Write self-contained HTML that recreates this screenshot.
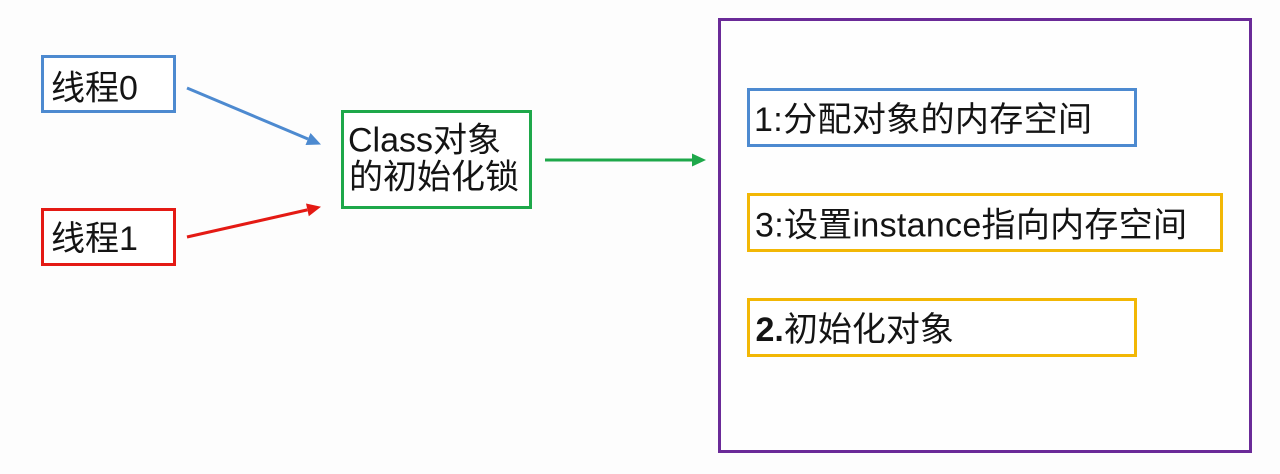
<!DOCTYPE html>
<html>
<head>
<meta charset="utf-8">
<style>
  html, body { margin: 0; padding: 0; background: #fdfdfd; }
  body { width: 1280px; height: 474px; overflow: hidden; }
  svg { display: block; }
  text { font-family: "Liberation Sans", "Noto Sans CJK SC", sans-serif; font-size: 34px; fill: #141414; }
</style>
</head>
<body>
<svg width="1280" height="474" viewBox="0 0 1280 474" xmlns="http://www.w3.org/2000/svg">
  <rect x="0" y="0" width="1280" height="474" fill="#fdfdfd"/>

  <!-- Thread boxes -->
  <rect x="42.5" y="56.5" width="132" height="55" fill="#ffffff" stroke="#4d8ad0" stroke-width="3"/>
  <text x="51" y="99.5">线程0</text>

  <rect x="42.5" y="209.5" width="132" height="55" fill="#ffffff" stroke="#e41a14" stroke-width="3"/>
  <text x="51" y="250">线程1</text>

  <!-- Green lock box -->
  <rect x="342.5" y="111.5" width="188" height="96" fill="#ffffff" stroke="#1ea84a" stroke-width="3"/>
  <text x="348" y="151.5">Class对象</text>
  <text x="349" y="188.5">的初始化锁</text>

  <!-- Arrows -->
  <line x1="187" y1="88" x2="308" y2="139" stroke="#4d8ad0" stroke-width="3"/>
  <polygon points="321,144.5 305.5,145 310.5,133" fill="#4d8ad0"/>

  <line x1="187" y1="237" x2="307.3" y2="209.9" stroke="#e41a14" stroke-width="3"/>
  <polygon points="321,206.8 308.8,216.3 306,203.5" fill="#e41a14"/>

  <line x1="545" y1="160" x2="693" y2="160" stroke="#1ea84a" stroke-width="3"/>
  <polygon points="706,160 692,153.5 692,166.5" fill="#1ea84a"/>

  <!-- Purple container -->
  <rect x="719.5" y="19.5" width="531" height="432" fill="#fefefe" stroke="#6a2a98" stroke-width="3"/>

  <rect x="748.5" y="89.5" width="387" height="56" fill="#ffffff" stroke="#4d8ad0" stroke-width="3"/>
  <text x="754" y="131" textLength="338" lengthAdjust="spacing">1:分配对象的内存空间</text>

  <rect x="748.5" y="194.5" width="473" height="56" fill="#ffffff" stroke="#f2b705" stroke-width="3"/>
  <text x="755" y="236.5" textLength="432" lengthAdjust="spacing">3:设置instance指向内存空间</text>

  <rect x="748.5" y="299.5" width="387" height="56" fill="#ffffff" stroke="#f2b705" stroke-width="3"/>
  <text x="755.5" y="341"><tspan font-weight="bold">2.</tspan>初始化对象</text>
</svg>
</body>
</html>
